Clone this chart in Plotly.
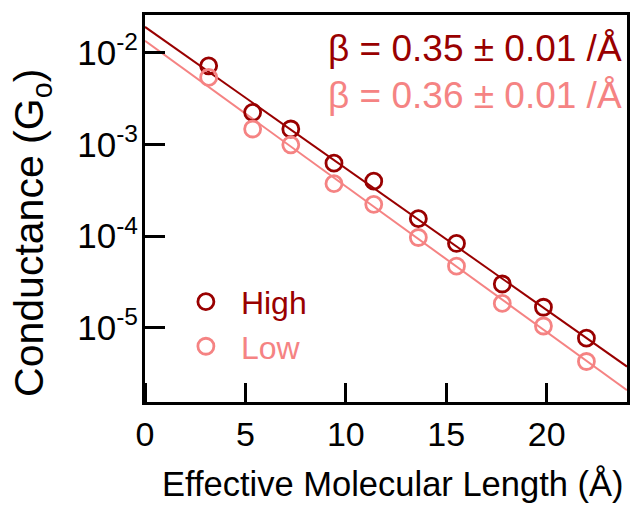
import numpy as np
import plotly.graph_objects as go

# ---- data ----
length_A = [3.17, 5.36, 7.26, 9.41, 11.39, 13.61, 15.51, 17.79, 19.84, 21.98]
g_high = [7.17e-3, 2.23e-3, 1.47e-3, 6.24e-4, 3.97e-4, 1.55e-4, 8.32e-5, 3.01e-5, 1.68e-5, 7.73e-6]
g_low = [5.36e-3, 1.47e-3, 9.88e-4, 3.73e-4, 2.22e-4, 9.66e-5, 4.71e-5, 1.85e-5, 1.05e-5, 4.31e-6]

# exponential fits: G = 10**intercept * exp(-beta * L)
fit_intercept_log10 = [-1.721, -1.873]
fit_beta = [0.355, 0.365]
beta_labels = ["β = 0.35 ± 0.01 /Å", "β = 0.36 ± 0.01 /Å"]
series_names = ["High", "Low"]

y_tickvals = [1e-2, 1e-3, 1e-4, 1e-5]
y_ticktext = ["10<sup>-2</sup>", "10<sup>-3</sup>", "10<sup>-4</sup>", "10<sup>-5</sup>"]
x_tickvals = [0, 5, 10, 15, 20]

colors = ["#990000", "#F58383"]
FONT = "Arial, Liberation Sans, sans-serif"

W, H = 642, 516
ML, MR, MT, MB = 145, 13, 14, 114
plot_w = W - ML - MR
plot_h = H - MT - MB
TICKLEN = 19

x_range = [0, 24]
y_range_log = [-5.807, -1.591]

fig = go.Figure()

x_line = np.linspace(x_range[0], x_range[1], 50)
for i, name in enumerate(series_names):
    y_line = 10 ** (fit_intercept_log10[i] - fit_beta[i] / np.log(10) * x_line)
    fig.add_trace(go.Scatter(x=x_line, y=y_line, mode="lines",
                             line=dict(color=colors[i], width=2),
                             showlegend=False, hoverinfo="skip"))
for i, (yd, name) in enumerate(zip([g_high, g_low], series_names)):
    fig.add_trace(go.Scatter(x=length_A, y=yd, mode="markers",
                             name=f"<span style='color:{colors[i]}'>{name}</span>",
                             marker=dict(symbol="circle-open", size=16,
                                         color=colors[i], line=dict(width=2.8, color=colors[i]))))

# empty trace on the overlay axes that carry the inward-pointing ticks
fig.add_trace(go.Scatter(x=[None], y=[None], xaxis="x2", yaxis="y2",
                         showlegend=False, hoverinfo="skip"))

def py(ypx):
    return (H - MB - ypx) / plot_h

def px(xpx):
    return (xpx - ML) / plot_w

for i, lab in enumerate(beta_labels):
    fig.add_annotation(text=lab, xref="paper", yref="paper",
                       x=px(626), y=py([48, 95][i]),
                       xanchor="right", yanchor="middle", showarrow=False,
                       font=dict(family=FONT, size=37, color=colors[i]))

fig.add_annotation(text="Conductance (G<sub>o</sub>)", xref="paper", yref="paper",
                   x=px(32), y=py(232), textangle=-90,
                   xanchor="center", yanchor="middle", showarrow=False,
                   font=dict(family=FONT, size=41, color="black"))
fig.add_annotation(text="Effective Molecular Length (Å)", xref="paper", yref="paper",
                   x=px(394), y=py(484),
                   xanchor="center", yanchor="middle", showarrow=False,
                   font=dict(family=FONT, size=34.5, color="black"))

fig.update_layout(
    width=W, height=H,
    margin=dict(l=ML, r=MR, t=MT, b=MB),
    plot_bgcolor="rgba(0,0,0,0)", paper_bgcolor="white",
    showlegend=True,
    legend=dict(x=px(171), y=py(274), xanchor="left", yanchor="top",
                bgcolor="rgba(0,0,0,0)", font=dict(family=FONT, size=32),
                itemwidth=60, tracegroupgap=0),
    font=dict(family=FONT),
    xaxis=dict(range=x_range, tickmode="array", tickvals=x_tickvals,
               showline=True, linewidth=3, linecolor="black", mirror=True,
               ticks="inside", ticklen=TICKLEN, tickwidth=3, tickcolor="#000000",
               showgrid=False, zeroline=False,
               tickfont=dict(family=FONT, size=34, color="black")),
    yaxis=dict(type="log", range=y_range_log, tickmode="array",
               tickvals=y_tickvals, ticktext=y_ticktext,
               showline=True, linewidth=3, linecolor="black", mirror=True,
               ticks="inside", ticklen=TICKLEN, tickwidth=3, tickcolor="#000000",
               showgrid=False, zeroline=False, ticklabelstandoff=-3,
               tickfont=dict(family=FONT, size=35, color="black")),
    # overlay axes sitting on the bottom/left edges, ticks pointing into the plot
    xaxis2=dict(overlaying="x", side="top", anchor="free", position=0,
                range=x_range, tickmode="array", tickvals=x_tickvals,
                ticks="outside", ticklen=TICKLEN, tickwidth=3, tickcolor="#000000",
                showticklabels=False, showline=False, showgrid=False, zeroline=False),
    yaxis2=dict(overlaying="y", side="right", anchor="free", position=0,
                type="log", range=y_range_log, tickmode="array", tickvals=y_tickvals,
                ticks="outside", ticklen=TICKLEN, tickwidth=3, tickcolor="#000000",
                showticklabels=False, showline=False, showgrid=False, zeroline=False),
)

fig.write_html("out.html")
